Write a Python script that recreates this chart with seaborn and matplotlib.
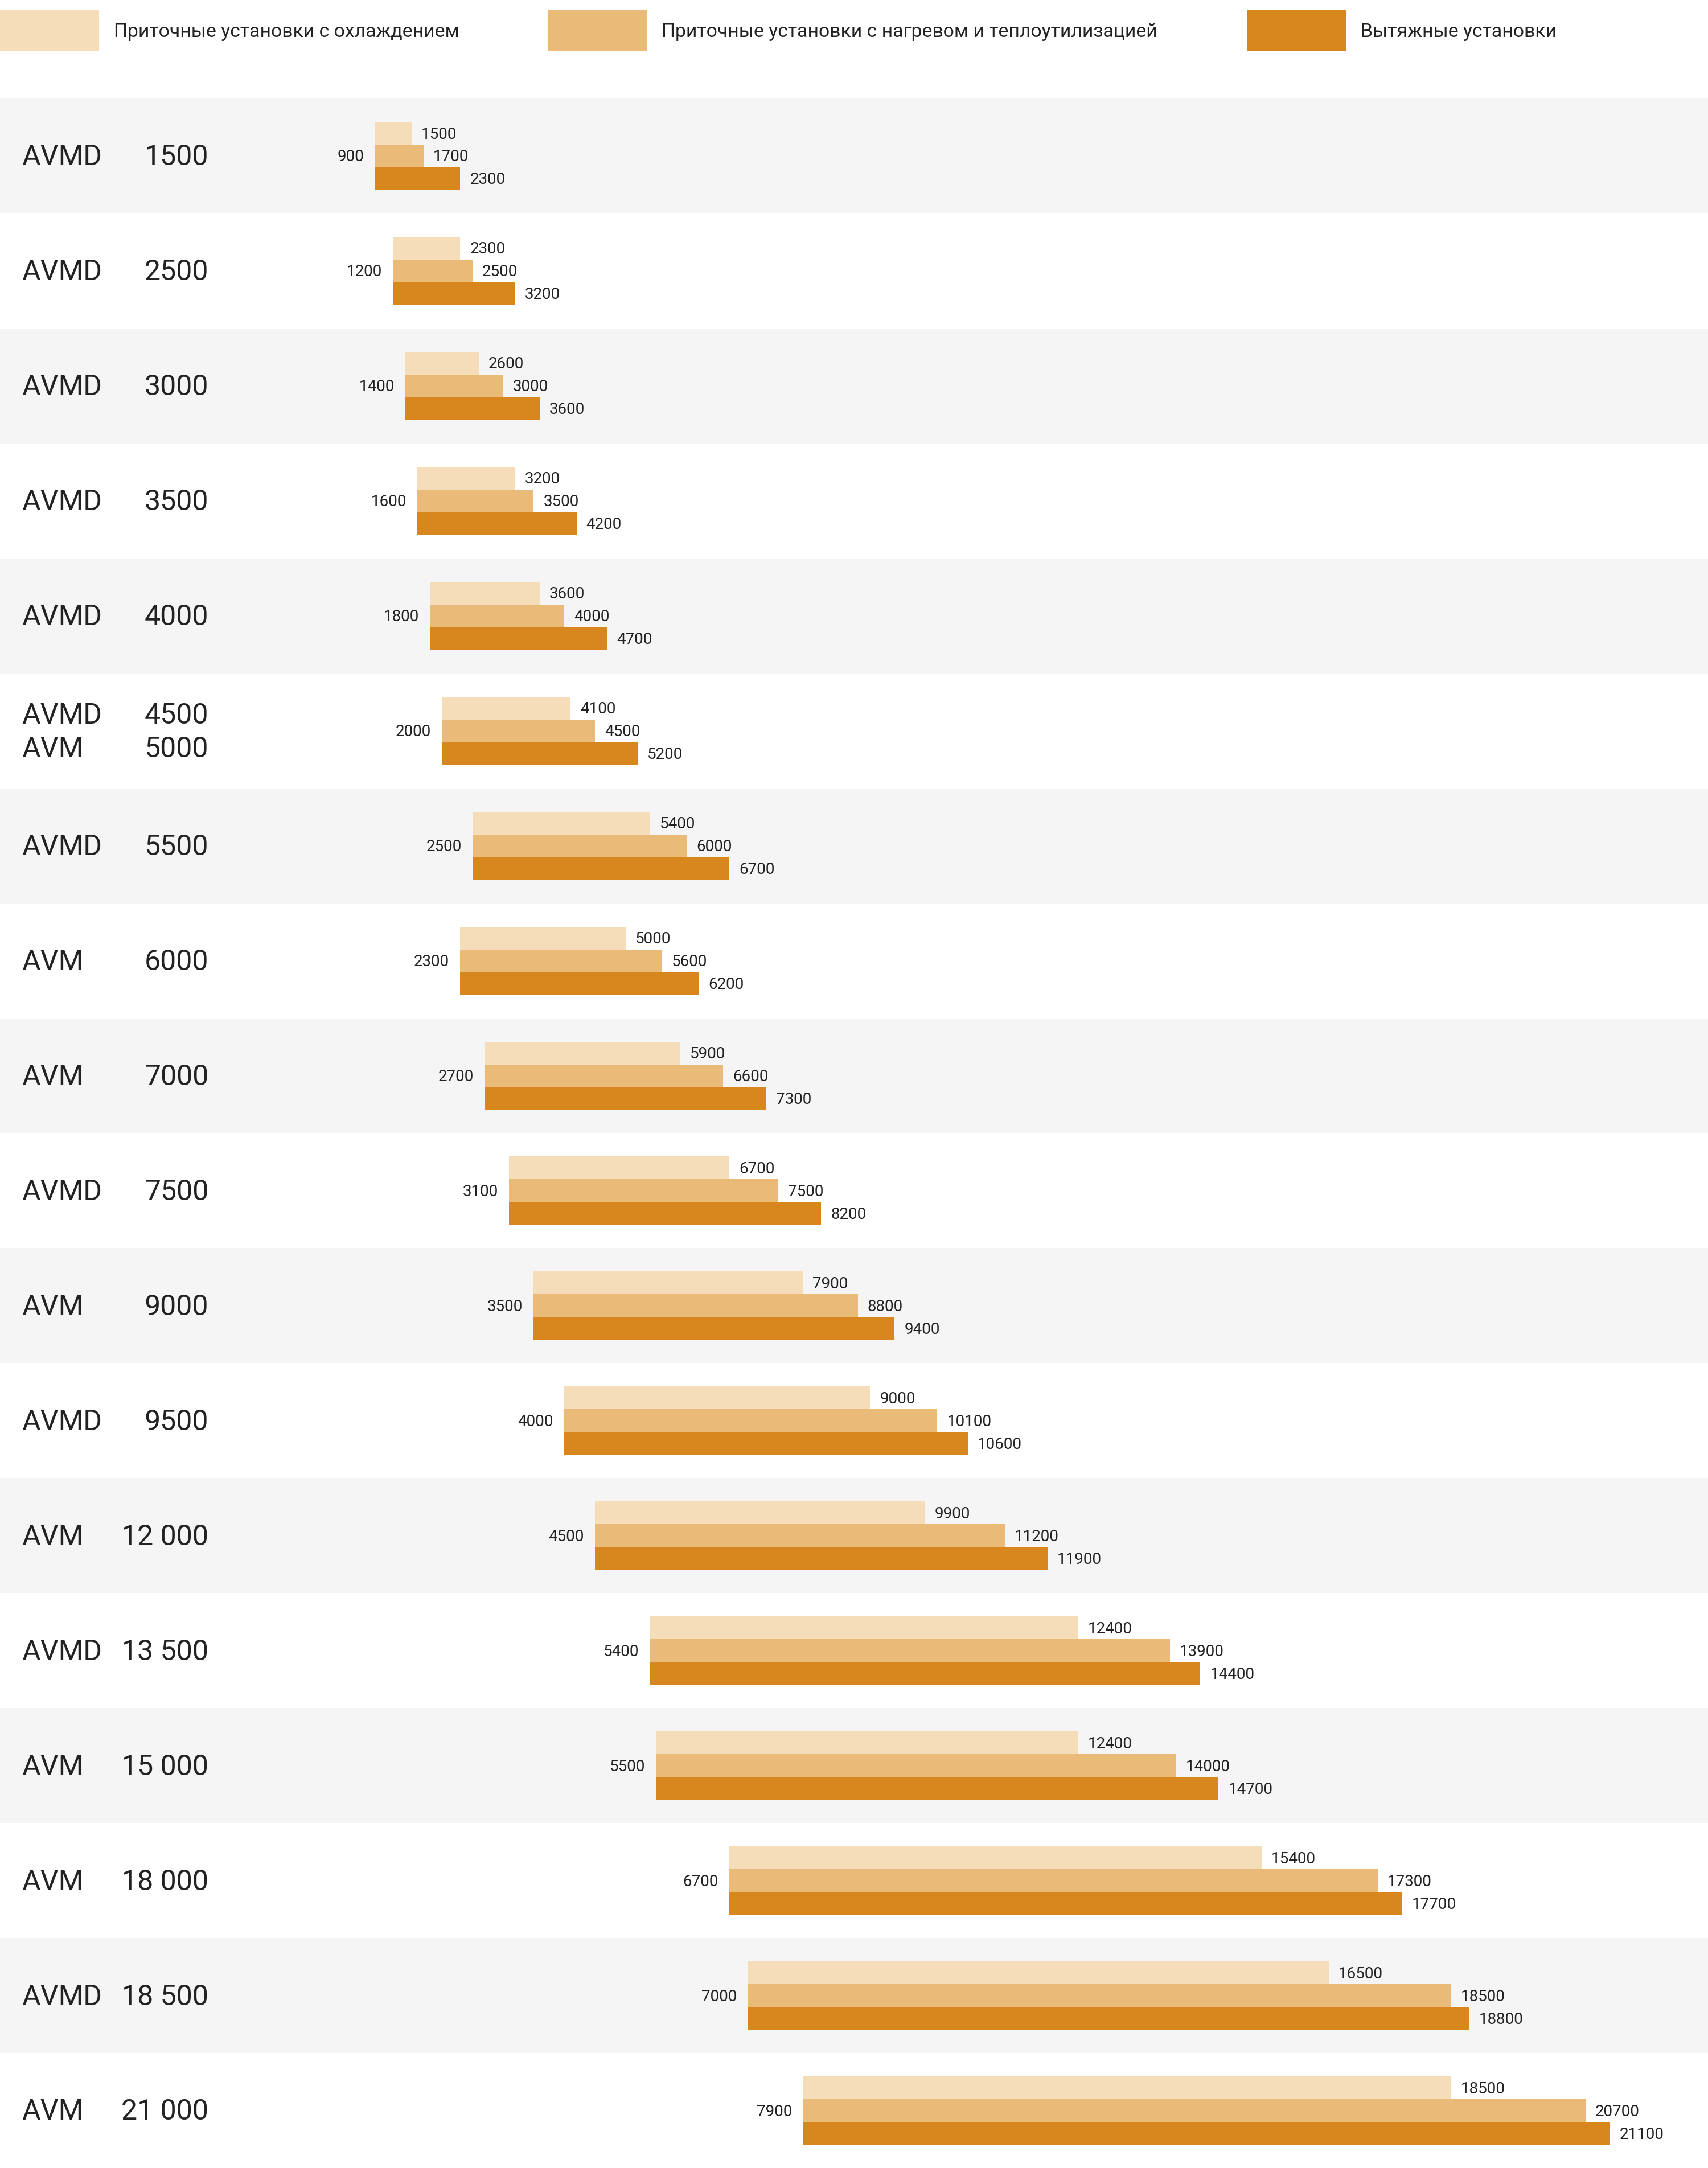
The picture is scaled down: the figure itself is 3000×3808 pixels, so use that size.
import matplotlib
matplotlib.use("Agg")
import matplotlib.pyplot as plt
import seaborn as sns
import pandas as pd
from matplotlib.patches import Rectangle

# ---------------- data ----------------
row_models = ["AVMD", "AVMD", "AVMD", "AVMD", "AVMD", "AVMD|AVM", "AVMD", "AVM", "AVM",
              "AVMD", "AVM", "AVMD", "AVM", "AVMD", "AVM", "AVM", "AVMD", "AVM"]
row_sizes = ["1500", "2500", "3000", "3500", "4000", "4500|5000", "5500", "6000", "7000",
             "7500", "9000", "9500", "12 000", "13 500", "15 000", "18 000", "18 500", "21 000"]
starts = [900, 1200, 1400, 1600, 1800, 2000, 2500, 2300, 2700, 3100, 3500, 4000, 4500,
          5400, 5500, 6700, 7000, 7900]
cooling = [1500, 2300, 2600, 3200, 3600, 4100, 5400, 5000, 5900, 6700, 7900, 9000, 9900,
           12400, 12400, 15400, 16500, 18500]
heating = [1700, 2500, 3000, 3500, 4000, 4500, 6000, 5600, 6600, 7500, 8800, 10100, 11200,
           13900, 14000, 17300, 18500, 20700]
exhaust = [2300, 3200, 3600, 4200, 4700, 5200, 6700, 6200, 7300, 8200, 9400, 10600, 11900,
           14400, 14700, 17700, 18800, 21100]
series_names = ["Приточные установки с охлаждением",
                "Приточные установки с нагревом и теплоутилизацией",
                "Вытяжные установки"]
series_colors = ["#f5ddba", "#eaba78", "#d8871e"]

# ---------------- figure ----------------
sns.set_theme(style="white")
plt.rcParams["font.family"] = ["Roboto", "DejaVu Sans"]
TXT = "#222222"

W, H, DPI = 3000, 3808, 100
fig = plt.figure(figsize=(W / DPI, H / DPI), dpi=DPI)
top_px = 173
ax = fig.add_axes([0, 0, 1, (H - top_px) / H])

row_ids = [f"r{i}" for i in range(len(starts))]
all_vals = [cooling, heating, exhaust]
records = []
for name, vals in zip(series_names, all_vals):
    for rid, s, v in zip(row_ids, starts, vals):
        records.append({"row": rid, "series": name, "value": v, "span": v - s})
df = pd.DataFrame(records)

# alternating bands
n = len(row_ids)
for i in range(n):
    if i % 2 == 0:
        ax.axhspan(i - 0.5, i + 0.5, color="#f5f5f5", zorder=0, lw=0)

group_w = 0.594
sns.barplot(data=df, x="span", y="row", hue="series", order=row_ids,
            hue_order=series_names, palette=series_colors, width=group_w,
            dodge=True, errorbar=None, orient="y", saturation=1, legend=False,
            left=starts, linewidth=0, ax=ax, zorder=2)

px_per_unit = 0.10742
zero_px = 561.4
ax.set_xlim(-zero_px / px_per_unit, (W - zero_px) / px_per_unit)
ax.set_ylim(n - 0.5, -0.5)
ax.set_axis_off()

bar_h = group_w / 3
gap_r = 17 / px_per_unit
gap_l = 19 / px_per_unit
dy_small = 0.01
dy_big = 0.012
for i in range(n):
    for j, vals in enumerate(all_vals):
        y = i + (j - 1) * bar_h + dy_small
        ax.text(vals[i] + gap_r, y, str(vals[i]), ha="left", va="center",
                fontsize=20, color=TXT, zorder=3)
    ax.text(starts[i] - gap_l, i + dy_small, str(starts[i]), ha="right", va="center",
            fontsize=20, color=TXT, zorder=3)

    models = row_models[i].split("|")
    sizes = row_sizes[i].split("|")
    k = len(models)
    for m, (mod, sz) in enumerate(zip(models, sizes)):
        y = i + (m - (k - 1) / 2) * 0.292 + dy_big
        ax.text(38 / W, y, mod, transform=ax.get_yaxis_transform(), ha="left",
                va="center", fontsize=36, color=TXT, zorder=3)
        ax.text(366 / W, y, sz, transform=ax.get_yaxis_transform(), ha="right",
                va="center", fontsize=36, color=TXT, zorder=3)

# legend
leg_x = [0, 962, 2190]
for name, col, x0 in zip(series_names, series_colors, leg_x):
    fig.patches.append(Rectangle((x0 / W, 1 - 89 / H), 174 / W, 72 / H,
                                 transform=fig.transFigure, color=col, lw=0))
    fig.text((x0 + 200) / W, 1 - 56 / H, name, ha="left", va="center",
             fontsize=24.3, color=TXT)

fig.savefig("out.png", dpi=DPI, facecolor="white")
